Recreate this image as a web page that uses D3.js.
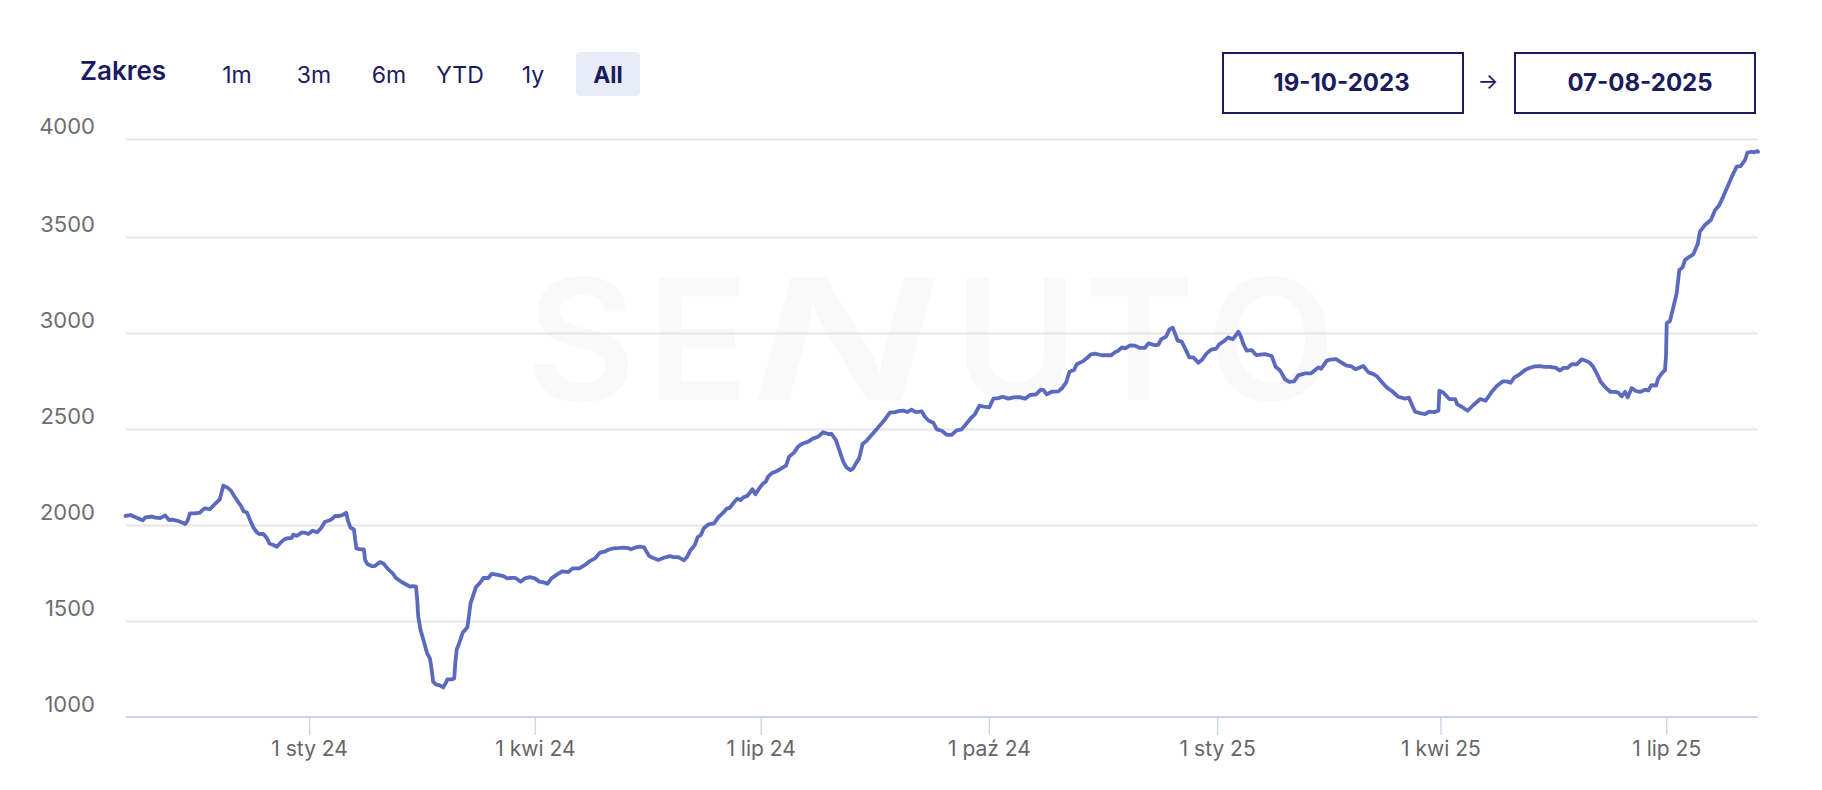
<!DOCTYPE html>
<html lang="pl">
<head>
<meta charset="utf-8">
<title>Zakres</title>
<script src="https://cdn.jsdelivr.net/npm/d3@7/dist/d3.min.js"></script>
<style>
html,body{margin:0;padding:0;background:#fff}
svg{display:block}
text{font-family:Inter,"Noto Sans",sans-serif}
</style>
</head>
<body>
<svg id="chart" width="1822" height="790"></svg>
<script>
const startDate = "2023-10-19";
const endDate = "2025-08-07";
const daysSinceStart = [0,2,4,5,7,8,10,11,12,14,16,17.5,19,21,23,24,25,26,28,30,31,32,34,36,38,39.4,41,42.5,44,45.5,46.5,47.5,49,50.2,51.5,53,54,55.6,57,58,59.6,61,62.5,64,65.6,67,67.6,69,71,72.3,73.7,75.4,77.3,78.8,80.4,82.4,83.5,84.4,86.2,87.8,88.9,89.8,90.7,92.1,92.6,93.1,94.8,96.1,96.6,97.5,99.2,100.5,102.6,103.9,105.9,107.7,109,111.3,113.3,114.6,115.7,117.1,117.6,118,118.9,120.3,121.6,122.7,123.4,124,125.1,126.7,128.1,129,129.7,131.4,132.5,132.9,133.5,134.5,135.9,137.8,138.3,139.1,140.4,141.2,142.9,144.2,146.2,147.6,149.6,152.3,153.9,155.6,157,159.3,161,163,165,166.8,168.6,170.1,171.7,174,176,178.5,180.2,182.9,185.2,187.2,189.2,191.2,193.2,194.6,196.6,198.6,200.6,202.6,203.7,205.3,207.3,209,210,211.1,212.7,214.7,216.7,219.4,221,222.8,225.1,226.4,227.8,229.5,230.6,231.9,233.1,234.9,237.3,238.9,240.9,242.3,243.6,244.9,246.6,247.9,249,250.6,252.7,253.9,255.7,257,258.1,259,260.4,262.4,264.4,266.2,267.5,269.4,271.1,272.5,275.2,277.2,279.2,281.2,283.2,284.6,286.3,287.9,289.3,290.6,292.2,293.3,294.4,295.7,297.1,298.7,300.7,302.7,304.7,306.1,308.1,310.1,312.1,313.7,315.1,316.8,318.6,320.9,322.2,323.8,325.6,327,329,331,333,335,337,339,341.1,342.4,344.2,346.1,348.2,349.8,351.8,353.6,355.9,357.9,360.3,362.6,364.6,367,368.9,370,371.3,373.3,376,377.4,379.1,380.5,382.3,383.4,385.8,387.4,389.1,391.1,393.5,397.3,398.9,400.2,401.6,402.9,404.9,406.9,408.9,410.9,412.3,415,416.3,417.4,419.4,420.8,422.1,423,424.1,425.7,427.1,428.8,430.4,432.4,433.8,435.8,437.8,439.6,440.9,442.5,444.5,446.3,448.6,449.6,450.6,451.9,453.9,455.7,459.3,462,463.6,465.4,467.4,469.1,471,472.7,475.4,477.9,479.5,480.8,481.9,484.2,485.5,487.9,490.2,492.2,494.2,495.8,498.9,501,503,504.3,506.3,508.3,510.4,513,515.7,517.3,518.7,519.8,521.8,523.8,525.5,527.4,529.2,529.6,531.2,533.6,535.9,536.8,538.6,540.9,543.3,546,548.2,550.7,552.7,555.1,556.7,558.3,559.7,562.1,564.1,566.1,568.1,570.1,572.1,574.2,576.6,578.2,579.5,581.3,582.9,584.9,586.9,588.3,590,591.6,593,594.6,596.3,598.4,600.4,601.7,603.1,604.4,605.5,607.1,608.8,610.4,612.5,613.8,615.1,616.9,617.8,619.2,620.5,620.9,621.2,622.5,623.9,625.2,626.3,627.6,628.6,630.3,631.9,633.7,634.6,636.6,639,640.7,642.3,644,646,648.1,649.4,651,652.8,653.7,655.5,656.4,657.7,658];
const values = [2047,2052,2040,2035,2024,2040,2043,2043,2038,2036,2050,2026,2028,2022,2012,2005,2022,2061,2061,2064,2078,2087,2082,2109,2134,2205,2196,2179,2147,2118,2101,2073,2064,2026,1988,1960,1953,1953,1931,1904,1896,1887,1908,1925,1932,1932,1950,1943,1960,1960,1953,1970,1962,1983,2017,2025,2034,2047,2047,2054,2064,2017,1986,1977,1922,1878,1873,1873,1818,1797,1786,1786,1807,1800,1769,1748,1724,1703,1689,1679,1682,1679,1609,1522,1453,1392,1331,1305,1245,1184,1170,1165,1154,1175,1196,1196,1201,1279,1352,1384,1439,1467,1514,1592,1644,1675,1699,1724,1724,1745,1741,1734,1722,1725,1725,1705,1722,1728,1722,1705,1701,1694,1722,1743,1759,1755,1774,1774,1792,1812,1826,1856,1861,1871,1878,1880,1882,1880,1873,1882,1887,1884,1861,1838,1828,1818,1828,1838,1833,1833,1816,1835,1870,1896,1936,1948,1983,2003,2009,2040,2064,2085,2089,2113,2137,2130,2144,2151,2186,2160,2196,2217,2226,2252,2269,2280,2295,2309,2356,2377,2408,2422,2434,2451,2460,2483,2474,2474,2443,2382,2330,2300,2285,2295,2321,2347,2422,2439,2469,2498,2529,2550,2585,2588,2594,2595,2588,2601,2588,2592,2564,2543,2533,2498,2491,2470,2469,2493,2498,2529,2561,2578,2621,2616,2613,2658,2661,2668,2658,2665,2666,2658,2677,2680,2705,2703,2680,2694,2696,2712,2741,2798,2807,2837,2852,2868,2889,2892,2884,2884,2901,2908,2925,2920,2936,2934,2922,2923,2946,2936,2939,2967,2981,3019,3028,2998,2960,2955,2920,2873,2873,2845,2859,2894,2915,2918,2942,2955,2977,2967,3007,2981,2942,2908,2911,2885,2890,2880,2824,2804,2758,2745,2748,2779,2790,2790,2807,2821,2814,2856,2861,2864,2845,2830,2826,2811,2828,2795,2786,2776,2746,2717,2698,2668,2658,2663,2620,2590,2583,2578,2590,2588,2595,2700,2689,2656,2656,2628,2616,2595,2625,2656,2647,2694,2724,2748,2748,2741,2767,2786,2807,2819,2826,2828,2824,2824,2818,2804,2818,2818,2838,2837,2863,2857,2847,2824,2790,2746,2720,2694,2693,2689,2670,2694,2665,2713,2698,2693,2705,2701,2729,2726,2764,2790,2807,2877,3050,3062,3137,3206,3328,3342,3380,3397,3410,3463,3527,3561,3587,3638,3660,3706,3765,3825,3859,3862,3893,3930,3935,3932,3939,3935];
const yTicks = [1000,1500,2000,2500,3000,3500,4000];
const xTickDates = ["2024-01-01","2024-04-01","2024-07-01","2024-10-01","2025-01-01","2025-04-01","2025-07-01"];
const xTickLabels = ["1 sty 24","1 kwi 24","1 lip 24","1 paź 24","1 sty 25","1 kwi 25","1 lip 25"];
const rangeLabel = "Zakres";
const rangeButtons = ["1m","3m","6m","YTD","1y","All"];
const activeButton = "All";
const dateFrom = "19-10-2023";
const dateTo = "07-08-2025";
const watermark = ["S","E","N","U","T","O"];

const navy = "#1a1b5e";
const svg = d3.select("#chart");
const parse = d3.utcParse("%Y-%m-%d");
const start = parse(startDate);

const x = d3.scaleUtc().domain([start, parse(endDate)]).range([125.5, 1758]);
const y = d3.scaleLinear().domain([1000, 3500, 4000]).range([717, 237, 139]);

// watermark
const wmX = d3.scaleOrdinal().domain(watermark).range([581, 698, 830, 1016, 1139, 1271]);
svg.append("g").selectAll("text").data(watermark).join("text")
  .attr("transform", d => d === "N"
    ? `translate(${wmX(d)},400) skewX(-15) scale(1.4,1)`
    : `translate(${wmX(d)},400)`)
  .attr("text-anchor", "middle")
  .attr("font-size", 168).attr("font-weight", 600)
  .attr("fill", "#f9f9f9").text(d => d);

// gridlines + y labels
const yAxis = svg.append("g").attr("transform", "translate(126,0)")
  .call(d3.axisLeft(y).tickValues(yTicks).tickSize(-1632).tickPadding(0).tickFormat(d3.format("d")));
yAxis.select(".domain").remove();
yAxis.selectAll(".tick line").attr("stroke", "#e6e6e6").attr("stroke-width", 2);
yAxis.selectAll(".tick text")
  .attr("x", -31).attr("dy", "-0.25em")
  .attr("font-size", 22).attr("fill", "#6e6e6e").attr("font-family", "Inter, sans-serif");
yAxis.selectAll(".tick").filter(d => d === 1000).select("line").remove();

// x axis
const xAxis = svg.append("g").attr("transform", "translate(0,717)")
  .call(d3.axisBottom(x).tickValues(xTickDates.map(parse)).tickSize(18).tickPadding(6)
    .tickFormat((d, i) => xTickLabels[i]));
xAxis.select(".domain").remove();
xAxis.append("line").attr("x1", 126).attr("x2", 1758).attr("stroke", "#ccd6eb").attr("stroke-width", 2);
xAxis.selectAll(".tick line").attr("stroke", "#ccd6eb").attr("stroke-width", 1.4);
xAxis.selectAll(".tick text").attr("font-size", 21).attr("fill", "#666666").attr("font-family", "Inter, sans-serif");

// series
const line = d3.line()
  .x((d, i) => x(d3.utcHour.offset(start, Math.round(daysSinceStart[i] * 24))))
  .y(d => y(d));
svg.append("path").datum(values)
  .attr("fill", "none").attr("stroke", "#5b6abf").attr("stroke-width", 3.8)
  .attr("stroke-linejoin", "round").attr("stroke-linecap", "round")
  .attr("d", line);

// range selector
svg.append("text").attr("x", 80).attr("y", 80).attr("font-size", 26).attr("font-weight", 600)
  .attr("fill", navy).text(rangeLabel);
const btnX = d3.scaleOrdinal().domain(rangeButtons).range([237, 314, 389, 460, 533, 608]);
svg.append("rect").attr("x", 576).attr("y", 52).attr("width", 64).attr("height", 44).attr("rx", 4)
  .attr("fill", "#e8ecf6");
svg.append("g").selectAll("text").data(rangeButtons).join("text")
  .attr("x", d => btnX(d)).attr("y", 83)
  .attr("text-anchor", "middle").attr("font-size", 23)
  .attr("font-weight", d => d === activeButton ? 700 : 400)
  .attr("fill", navy).text(d => d);

// date inputs
const dateBoxes = [[dateFrom, 1223, 1341.5], [dateTo, 1515, 1640]];
dateBoxes.forEach(([label, bx, tx]) => {
  svg.append("rect").attr("x", bx).attr("y", 53).attr("width", 240).attr("height", 60)
    .attr("fill", "#fff").attr("stroke", navy).attr("stroke-width", 2);
  svg.append("text").attr("x", tx).attr("y", 91).attr("text-anchor", "middle")
    .attr("font-size", 24).attr("font-weight", 700).attr("fill", navy).text(label);
});
svg.append("text").attr("x", 1488).attr("y", 89).attr("text-anchor", "middle")
  .attr("font-size", 22).attr("fill", navy).text("→");
</script>
</body>
</html>
